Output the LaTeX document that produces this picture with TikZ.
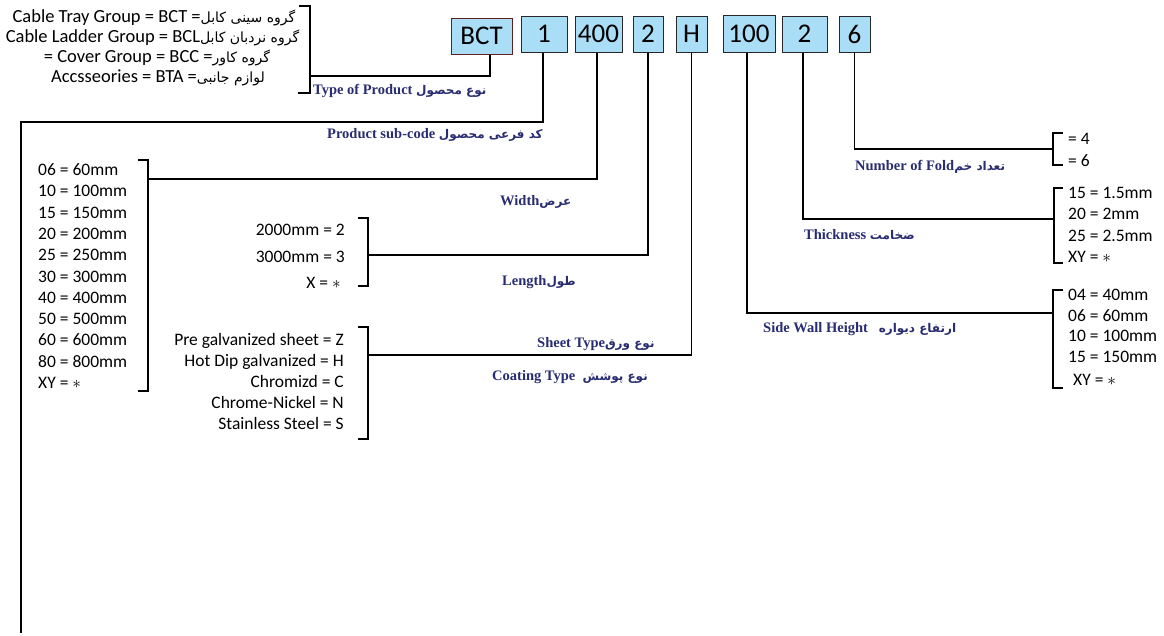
\documentclass[tikz,border=0pt]{standalone}
\usepackage{fontspec}
\setmainfont{Carlito}
\newfontfamily\fa[Script=Arabic]{DejaVu Sans}
\newfontfamily\labfont{Liberation Serif}
\TeXXeTstate=1
\definecolor{boxfill}{RGB}{170,222,247}
\definecolor{boxline}{RGB}{40,40,40}
\definecolor{bctline}{RGB}{100,30,30}
\definecolor{labcol}{RGB}{40,44,112}
\newcommand{\fatxt}[1]{{\fa\fontsize{12}{13}\selectfont\beginR #1\endR}}
\newcommand{\fatop}[1]{{\fa\fontsize{14}{15}\selectfont\beginR #1\endR}}
\tikzset{
  codebox/.style={draw=boxline, fill=boxfill, line width=1pt, inner sep=0pt,
    font=\fontsize{27}{27}\selectfont},
  item/.style={inner sep=0pt, font=\fontsize{17.5}{20}\selectfont},
  topitem/.style={inner sep=0pt, font=\fontsize{18.5}{20}\selectfont},
  lab/.style={inner sep=0pt, text=labcol,
    font=\labfont\bfseries\fontsize{14.5}{16}\selectfont},
  wire/.style={line width=1.6pt, draw=black},
}
\begin{document}
\begin{tikzpicture}[x=1pt,y=-1pt]
\useasboundingbox (0,0) rectangle (1164,635);
% code boxes
\node[codebox, draw=bctline, minimum width=61pt, minimum height=36pt] (bct) at (481.5,36) {BCT};
\node[codebox, minimum width=46pt, minimum height=36pt] (b1) at (544,34) {1};
\node[codebox, minimum width=47pt, minimum height=36pt] (b400) at (598.5,34) {400};
\node[codebox, minimum width=30pt, minimum height=36pt] (b2) at (648,34) {2};
\node[codebox, minimum width=31pt, minimum height=36pt] (bH) at (691.5,34) {H};
\node[codebox, minimum width=52pt, minimum height=37pt] (b100) at (749,33.5) {100};
\node[codebox, minimum width=45pt, minimum height=36pt] (b2b) at (804.5,34) {2};
\node[codebox, minimum width=31pt, minimum height=36pt] (b6) at (854.5,34) {6};
% join points
\coordinate (tj) at (310,76);
\coordinate (scA) at (21,122);
\coordinate (scB) at (21,633);
\coordinate (wj) at (148,179);
\coordinate (lj) at (368,255);
\coordinate (cj) at (368,355);
\coordinate (sj) at (1053,313);
\coordinate (tk) at (1054,219);
\coordinate (fj) at (1053,149);
% connectors
\draw[wire] ([xshift=8.5pt]bct.south) |- (tj);
\draw[wire] ([xshift=-1pt]b1.south) |- (scA) -- (scB);
\draw[wire] ([xshift=-1.5pt]b400.south) |- (wj);
\draw[wire] (b2.south) |- (lj);
\draw[wire] (bH.south) |- (cj);
\draw[wire] ([xshift=-2pt]b100.south) |- (sj);
\draw[wire] ([xshift=-1.5pt]b2b.south) |- (tk);
\draw[wire] (b6.south) |- (fj);
% brackets
\draw[wire] (299,6) -- (310,6) -- (310,93) -- (298,93);
\draw[wire] (138,160) -- (148,160) -- (148,391) -- (138,391);
\draw[wire] (358,218) -- (368,218) -- (368,286) -- (358,286);
\draw[wire] (358,327) -- (368,327) -- (368,439) -- (358,439);
\draw[wire] (1063,290) -- (1053,290) -- (1053,388) -- (1063,388);
\draw[wire] (1063,188) -- (1054,188) -- (1054,263) -- (1063,263);
\draw[wire] (1063,133) -- (1053,133) -- (1053,165) -- (1063,165);
% top-left group list
\node[topitem, anchor=base] (g1) at (154,22) {Cable Tray Group = BCT =\fatop{گروه سینی کابل}};
\node[topitem, anchor=base] (g2) at (152.5,42) {Cable Ladder Group = BCL\fatop{گروه نردبان کابل}};
\node[topitem, anchor=base] (g3) at (157,62) {= Cover Group = BCC =\fatop{گروه کاور}};
\node[topitem, anchor=base] (g4) at (158,82) {Accsseories = BTA =\fatop{لوازم جانبی}};
% width list
\foreach \t [count=\i] in {06 = 60mm, 10 = 100mm, 15 = 150mm, 20 = 200mm, 25 = 250mm, 30 = 300mm, 40 = 400mm, 50 = 500mm, 60 = 600mm, 80 = 800mm, XY = $\ast$}
  \node[item, anchor=base west] (w\i) at (38,{175.5+21.3*(\i-1)}) {\t};
% length list
\node[item, anchor=base east] (l1) at (345,235.5) {2000mm = 2};
\node[item, anchor=base east] (l2) at (345,262.5) {3000mm = 3};
\node[item, anchor=base east] (l3) at (341,288.5) {X = $\ast$};
% coating list
\foreach \t [count=\i] in {Pre galvanized sheet = Z, Hot Dip galvanized = H, Chromizd = C, Chrome-Nickel = N, Stainless Steel = S}
  \node[item, anchor=base east] (c\i) at (344,{345.5+21*(\i-1)}) {\t};
% fold list
\node[item, anchor=base west] (f1) at (1068,144.5) {= 4};
\node[item, anchor=base west] (f2) at (1068,166.5) {= 6};
% thickness list
\foreach \t [count=\i] in {15 = 1.5mm, 20 = 2mm, 25 = 2.5mm, XY = $\ast$}
  \node[item, anchor=base west] (t\i) at (1068,{198.5+21.3*(\i-1)}) {\t};
% side wall list
\foreach \t [count=\i] in {04 = 40mm, 06 = 60mm, 10 = 100mm, 15 = 150mm}
  \node[item, anchor=base west] (s\i) at (1068,{300.5+20.7*(\i-1)}) {\t};
\node[item, anchor=base west] (s5) at (1073,385.5) {XY = $\ast$};
% labels
\node[lab, anchor=base west] (lbType) at (313,94) {Type of Product \fatxt{نوع محصول}};
\node[lab, anchor=base west] (lbSub) at (327,138) {Product sub-code \fatxt{کد فرعی محصول}};
\node[lab, anchor=base west] (lbWidth) at (500,205) {Width\fatxt{عرض}};
\node[lab, anchor=base west] (lbLen) at (502,285) {Length\fatxt{طول}};
\node[lab, anchor=base west] (lbSheet) at (537,347) {Sheet Type\fatxt{نوع ورق}};
\node[lab, anchor=base west] (lbCoat) at (492,380) {Coating Type\ \ \fatxt{نوع پوشش}};
\node[lab, anchor=base west] (lbFold) at (855,170) {Number of Fold\fatxt{تعداد خم}};
\node[lab, anchor=base west] (lbThick) at (804,239) {Thickness \fatxt{ضخامت}};
\node[lab, anchor=base west] (lbSide) at (763,332) {Side Wall Height\ \ \ \fatxt{ارتفاع دیواره}};
\end{tikzpicture}
\end{document}
